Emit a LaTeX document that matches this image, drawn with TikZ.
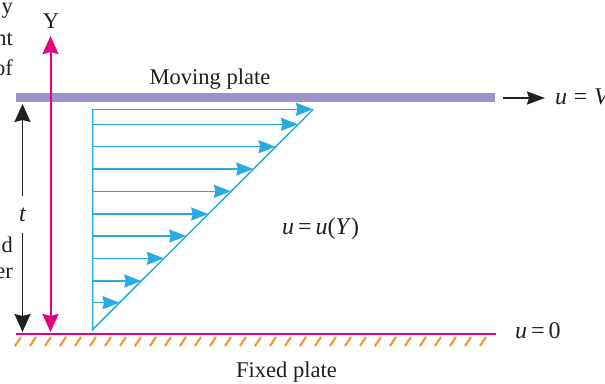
\documentclass[tikz,border=0pt]{standalone}
\usepackage{fontspec}
\setmainfont{Liberation Serif}
\usetikzlibrary{arrows.meta}
\definecolor{plateblue}{HTML}{9C93CC}
\definecolor{mag}{HTML}{E6007E}
\definecolor{cyn}{HTML}{29ABE2}
\definecolor{org}{HTML}{F7931E}
\definecolor{ink}{HTML}{231F20}
\begin{document}
\begin{tikzpicture}[x=1pt,y=-1pt,
  lbl/.style={font=\fontsize{22.5}{27}\selectfont, text=ink, inner sep=0pt},
  mlbl/.style={font=\fontsize{24}{28}\selectfont, text=ink, inner sep=0pt},
  bigtip/.style={Stealth[length=18pt,width=16pt,inset=2pt]},
  vel/.style={cyn, line width=1.5pt},
  velarrow/.style={vel, -{Stealth[length=17pt,width=13pt,inset=1.5pt]}},
  hatch/.style={org, line width=2pt}]
\useasboundingbox (0,0) rectangle (605,383);
\fill[white] (0,0) rectangle (605,383);
\clip (0,0) rectangle (605,383);

% partial text at the left edge
\node[lbl, anchor=base east] (c1) at (13,13) {y};
\node[lbl, anchor=base east] (c2) at (13,45) {nt};
\node[lbl, anchor=base east] (c3) at (13,75) {of};
\node[lbl, anchor=base east] (c4) at (13,252) {d};
\node[lbl, anchor=base east] (c5) at (13,278) {er};

% moving plate
\coordinate (mp1) at (16,97);
\coordinate (mp2) at (495,97);
\draw[plateblue, line width=9pt] (mp1) -- (mp2);
\node[lbl, anchor=base] (mplabel) at (210,84) {Moving plate};

% moving plate velocity arrow
\coordinate (va1) at (503,98);
\coordinate (va2) at (545,98);
\draw[ink, line width=1.6pt, -{Stealth[length=18pt,width=13pt,inset=2pt]}] (va1) -- (va2);
\node[mlbl, anchor=base west] (uv) at (555,104) {\textit{u}\;=\;\textit{V}};

% fixed plate
\coordinate (fp1) at (16,334);
\coordinate (fp2) at (496,334);
\draw[mag, line width=2.5pt] (fp1) -- (fp2);
\foreach \i in {0,...,31}
  \draw[hatch] ({15+15*\i},346) -- ++(6,-9);
\node[mlbl, anchor=base west] (u0) at (515,338) {\textit{u}\,=\,0};
\node[lbl, anchor=base] (fplabel) at (286.5,377) {Fixed plate};

% velocity profile
\coordinate (pb) at (92.7,329.5);
\coordinate (ptop) at (92.7,108.5);
\coordinate (pd) at (313.3,109.3);
\draw[vel] (ptop) -- (pb) -- (pd);
\foreach \y in {109.3,124.3,146.7,169,191.3,214,236,258.3,281,302.7}
  \draw[velarrow] (92.7,\y) -- ({92.7+329.5-\y},\y);
\node[mlbl, anchor=base west] (uuy) at (282,234) {\textit{u}\,=\,\textit{u}(\textit{Y})};

% Y axis
\coordinate (ytop) at (50.5,36);
\coordinate (ybot) at (50.5,332);
\draw[mag, line width=2pt, {Stealth[length=18pt,width=16pt,inset=2pt]}-{Stealth[length=18pt,width=16pt,inset=2pt]}] (ybot) -- (ytop);
\node[lbl] (ylabel) at (51,21) {Y};

% thickness t
\coordinate (ttop) at (22.5,104);
\coordinate (tg1) at (22.5,196);
\coordinate (tg2) at (22.5,233);
\coordinate (tbot) at (22.5,332);
\draw[ink, line width=1.5pt, {Stealth[length=18pt,width=16pt,inset=2pt]}-] (ttop) -- (tg1);
\draw[ink, line width=1.5pt, -{Stealth[length=18pt,width=16pt,inset=2pt]}] (tg2) -- (tbot);
\node[mlbl, font=\fontsize{24}{28}\selectfont\itshape] (tlabel) at (22.5,215) {t};
\end{tikzpicture}
\end{document}
